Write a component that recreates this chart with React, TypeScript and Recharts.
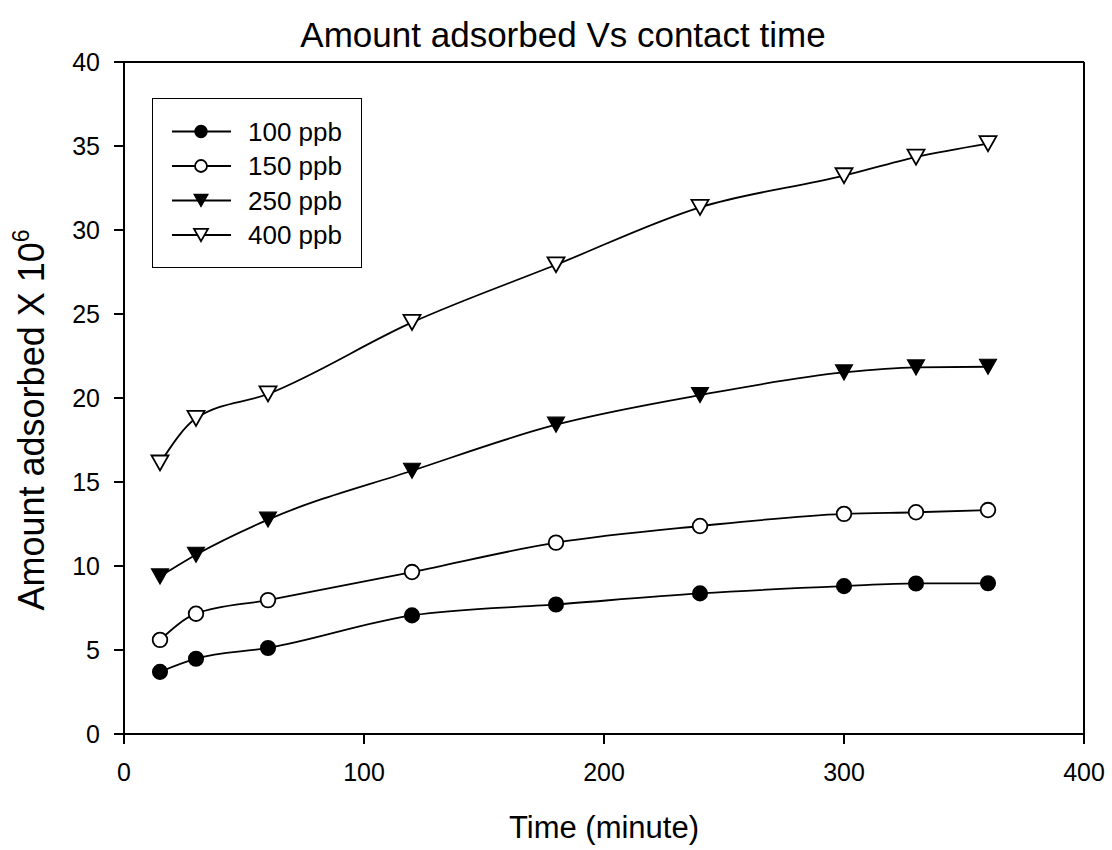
import React from "react";
import { LineChart, Line, XAxis, YAxis, Legend, ReferenceLine } from "recharts";

const times = [15, 30, 60, 120, 180, 240, 300, 330, 360];
const ppb100 = [3.7, 4.48, 5.12, 7.06, 7.71, 8.37, 8.8, 8.96, 8.97];
const ppb150 = [5.6, 7.16, 7.97, 9.64, 11.39, 12.38, 13.1, 13.2, 13.33];
const ppb250 = [9.38, 10.67, 12.76, 15.67, 18.41, 20.17, 21.52, 21.82, 21.86];
const ppb400 = [16.13, 18.79, 20.24, 24.5, 27.93, 31.35, 33.23, 34.34, 35.14];

const xTicks = [0, 100, 200, 300, 400];
const yTicks = [0, 5, 10, 15, 20, 25, 30, 35, 40];

const seriesNames = ["100 ppb", "150 ppb", "250 ppb", "400 ppb"];
const seriesKeys = ["s100", "s150", "s250", "s400"];
const seriesShapes = ["circleFilled", "circleOpen", "triFilled", "triOpen"];

const data = times.map((t, i) => ({
  time: t,
  s100: ppb100[i],
  s150: ppb150[i],
  s250: ppb250[i],
  s400: ppb400[i],
}));

const FONT = '"Liberation Sans", Arial, Helvetica, sans-serif';

function MarkerShape({ shape, cx, cy, scale = 1 }: { shape: string; cx: number; cy: number; scale?: number }) {
  if (cx == null || cy == null) return null;
  const r = 7.3 * scale;
  const hw = 8.5 * scale;
  const hh = 7.5 * scale;
  switch (shape) {
    case "circleFilled":
      return <circle cx={cx} cy={cy} r={r} fill="#000" stroke="#000" strokeWidth={1.5} />;
    case "circleOpen":
      return <circle cx={cx} cy={cy} r={r} fill="#fff" stroke="#000" strokeWidth={1.8} />;
    case "triFilled":
      return (
        <polygon
          points={`${cx - hw},${cy - hh} ${cx + hw},${cy - hh} ${cx},${cy + hh}`}
          fill="#000"
          stroke="#000"
          strokeWidth={1.2}
          strokeLinejoin="miter"
        />
      );
    default:
      return (
        <polygon
          points={`${cx - hw},${cy - hh} ${cx + hw},${cy - hh} ${cx},${cy + hh}`}
          fill="#fff"
          stroke="#000"
          strokeWidth={1.8}
          strokeLinejoin="miter"
        />
      );
  }
}

function makeDot(shape: string, key: string) {
  return (props: any) => (
    <MarkerShape key={`${key}-${props.index}`} shape={shape} cx={props.cx} cy={props.cy} />
  );
}

function LegendBox() {
  return (
    <div
      style={{
        width: 210,
        height: 170,
        border: "1.5px solid #000",
        boxSizing: "border-box",
        background: "#fff",
      }}
    >
      <svg width={208} height={168} style={{ display: "block" }}>
        {seriesNames.map((name, i) => {
          const cy = 32.5 + i * 34.5;
          return (
            <g key={name}>
              <line x1={19} x2={78} y1={cy} y2={cy} stroke="#000" strokeWidth={1.8} />
              <MarkerShape shape={seriesShapes[i]} cx={48} cy={cy} scale={0.82} />
              <text
                x={95}
                y={cy}
                dy="0.36em"
                fontSize={26}
                fontFamily={FONT}
                fill="#000"
              >
                {name}
              </text>
            </g>
          );
        })}
      </svg>
    </div>
  );
}

function YLabel(props: any) {
  const vb = props.viewBox || { x: 0, y: 62, width: 124, height: 672 };
  const cx = 44;
  const cy = vb.y + vb.height / 2 + 22;
  return (
    <text
      x={cx}
      y={cy}
      transform={`rotate(-90 ${cx} ${cy})`}
      textAnchor="middle"
      fontSize={36}
      fontFamily={FONT}
      fill="#000"
    >
      Amount adsorbed X 10
      <tspan dy={-15} fontSize={23}>
        6
      </tspan>
    </text>
  );
}

function XLabel(props: any) {
  const vb = props.viewBox || { x: 124, y: 734, width: 960, height: 116 };
  return (
    <text
      x={vb.x + vb.width / 2}
      y={vb.y + 104}
      textAnchor="middle"
      fontSize={31}
      fontFamily={FONT}
      fill="#000"
    >
      Time (minute)
    </text>
  );
}

export default function App() {
  return (
    <div style={{ position: "absolute", left: 0, top: 0, width: 1112, height: 850, background: "#fff" }}>
      <LineChart
        width={1112}
        height={850}
        data={data}
        margin={{ top: 62, right: 28, left: 0, bottom: 0 }}
      >
        <XAxis
          dataKey="time"
          type="number"
          domain={[0, 400]}
          ticks={xTicks}
          interval={0}
          height={116}
          tickSize={10}
          tickMargin={19}
          axisLine={{ stroke: "#000", strokeWidth: 2 }}
          tickLine={{ stroke: "#000", strokeWidth: 2 }}
          tick={{ fill: "#000", fontSize: 25, fontFamily: FONT }}
          label={<XLabel />}
        />
        <YAxis
          type="number"
          domain={[0, 40]}
          ticks={yTicks}
          interval={0}
          width={124}
          tickSize={10}
          tickMargin={14}
          axisLine={{ stroke: "#000", strokeWidth: 2 }}
          tickLine={{ stroke: "#000", strokeWidth: 2 }}
          tick={{ fill: "#000", fontSize: 25, fontFamily: FONT }}
          label={<YLabel />}
        />
        <ReferenceLine y={40} stroke="#000" strokeWidth={2} />
        <ReferenceLine x={400} stroke="#000" strokeWidth={2} />
        {seriesKeys.map((k, i) => (
          <Line
            key={k}
            dataKey={k}
            name={seriesNames[i]}
            type="monotone"
            stroke="#000"
            strokeWidth={1.8}
            dot={makeDot(seriesShapes[i], k)}
            activeDot={false}
            isAnimationActive={false}
          />
        ))}
        <Legend
          layout="horizontal"
          verticalAlign="middle"
          align="center"
          content={() => <LegendBox />}
          wrapperStyle={{ left: 152, top: 98, width: 210, height: 170 }}
        />
      </LineChart>
      <svg
        width={1112}
        height={60}
        style={{ position: "absolute", left: 0, top: 0, pointerEvents: "none" }}
      >
        <text x={563} y={47} textAnchor="middle" fontSize={35} fontFamily={FONT} fill="#000">
          Amount adsorbed Vs contact time
        </text>
      </svg>
    </div>
  );
}
